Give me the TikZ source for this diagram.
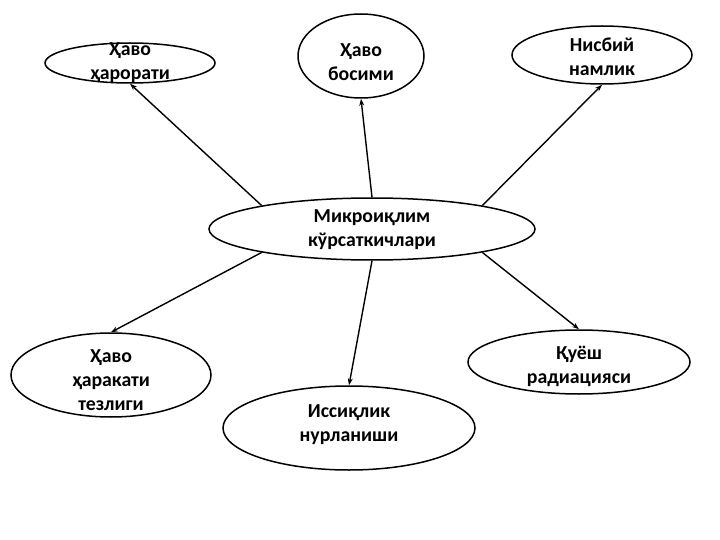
\documentclass[tikz,border=0pt]{standalone}
\usepackage{fontspec}
\setmainfont{Carlito}
\usetikzlibrary{shapes.geometric,arrows.meta}
\begin{document}
\begin{tikzpicture}[x=1pt,y=-1pt,
  el/.style={ellipse,draw,line width=1.5pt,inner sep=0pt},
  tx/.style={inner sep=0pt,align=center,font=\fontsize{19.8}{24}\selectfont\bfseries},
  arr/.style={line width=1.4pt,-{Stealth[length=7pt,width=5pt]}}]
\useasboundingbox (0,0) rectangle (720,540);
\node[el,minimum width=170pt,minimum height=40pt] (t) at (130,63) {};
\node[el,minimum width=126pt,minimum height=84pt] (b) at (361,56) {};
\node[el,minimum width=180pt,minimum height=58pt] (n) at (602,55) {};
\node[el,minimum width=326pt,minimum height=62pt] (c) at (372,229) {};
\node[el,minimum width=200pt,minimum height=84pt] (h) at (111,375) {};
\node[el,minimum width=252pt,minimum height=84pt] (i) at (349,428) {};
\node[el,minimum width=222pt,minimum height=64pt] (q) at (579,362) {};
\node[tx] (tt) at (130,63) {Ҳаво\\ҳарорати};
\node[tx] (bt) at (361,62) {Ҳаво\\босими};
\node[tx] (nt) at (602,57) {Нисбий\\намлик};
\node[tx] (ct) at (372,230) {Микроиқлим\\кўрсаткичлари};
\node[tx] (ht) at (111,380) {Ҳаво\\ҳаракати\\тезлиги};
\node[tx] (it) at (349,425) {Иссиқлик\\нурланиши};
\node[tx] (qt) at (579,366) {Қуёш\\радиацияси};
\draw[arr] (c.168) -- (t.south);
\draw[arr] (c.north) -- (b.south);
\draw[arr] (c.12) -- (n.south);
\draw[arr] (c.192) -- (h.north);
\draw[arr] (c.south) -- (i.north);
\draw[arr] (c.-12) -- (q.north);
\end{tikzpicture}
\end{document}
